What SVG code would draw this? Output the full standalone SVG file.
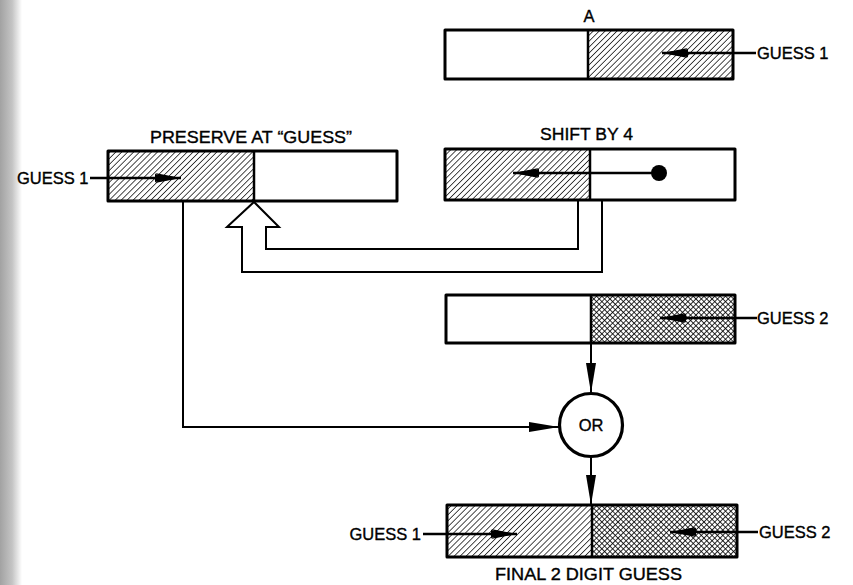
<svg xmlns="http://www.w3.org/2000/svg" width="853" height="585" viewBox="0 0 853 585">
<defs>
<linearGradient id="edge" x1="0" y1="0" x2="1" y2="0">
<stop offset="0" stop-color="#a2a2a2"/>
<stop offset="0.55" stop-color="#c4c4c4"/>
<stop offset="1" stop-color="#ffffff"/>
</linearGradient>
<pattern id="hatch" patternUnits="userSpaceOnUse" width="4.2" height="4.2" patternTransform="rotate(45)">
<rect width="4.2" height="4.2" fill="#fff"/>
<line x1="0" y1="0" x2="0" y2="4.2" stroke="#000" stroke-width="1.4"/>
</pattern>
<pattern id="cross" patternUnits="userSpaceOnUse" width="3.8" height="3.8" patternTransform="rotate(45)">
<rect width="3.8" height="3.8" fill="#fff"/>
<line x1="0" y1="0" x2="0" y2="3.8" stroke="#000" stroke-width="1.6"/>
<line x1="0" y1="0" x2="3.8" y2="0" stroke="#000" stroke-width="1.6"/>
</pattern>
<marker id="spear" viewBox="-28 -7 30 14" refX="0" refY="0" markerWidth="30" markerHeight="14" markerUnits="userSpaceOnUse" orient="auto">
<path d="M0,0 L-26,-5 L-18,0 L-26,5 z" fill="#000"/>
<path d="M0,0 L-26,-4 L-26,4 z" fill="#000"/>
</marker>
<marker id="tri" viewBox="-30 -7 32 14" refX="0" refY="0" markerWidth="32" markerHeight="14" markerUnits="userSpaceOnUse" orient="auto">
<path d="M0,0 L-30,-5 L-30,5 z" fill="#000"/>
</marker>
</defs>
<style>
.box{fill:none;stroke:#000;stroke-width:3;stroke-linejoin:round}
.div{stroke:#000;stroke-width:2.5}
.in{stroke:#000;stroke-width:2.4;fill:none;marker-end:url(#spear)}
.con{stroke:#000;stroke-width:2;fill:none}
.arr{marker-end:url(#tri)}
text{font-family:"Liberation Sans",Arial,sans-serif;font-size:16.5px;fill:#000;stroke:#000;stroke-width:0.35}
</style>
<rect x="0" y="0" width="22" height="585" fill="url(#edge)"/>

<g id="regA">
<text x="589" y="22" text-anchor="middle">A</text>
<rect x="588" y="30" width="145" height="49" fill="url(#hatch)"/>
<rect x="445" y="30" width="288" height="49" class="box"/>
<line x1="588" y1="30" x2="588" y2="79" class="div"/>
<line x1="756" y1="53" x2="662" y2="53" class="in"/>
<text x="757" y="59">GUESS 1</text>
</g>

<g id="preserve">
<text x="150" y="143" textLength="202" lengthAdjust="spacingAndGlyphs">PRESERVE AT “GUESS”</text>
<rect x="108" y="151" width="146" height="50" fill="url(#hatch)"/>
<rect x="108" y="151" width="289" height="50" class="box"/>
<line x1="254" y1="151" x2="254" y2="201" class="div"/>
<line x1="90" y1="178" x2="181" y2="178" class="in"/>
<text x="17" y="184">GUESS 1</text>
</g>

<g id="shift">
<text x="540" y="140" textLength="93" lengthAdjust="spacingAndGlyphs">SHIFT BY 4</text>
<rect x="445" y="149" width="145" height="51" fill="url(#hatch)"/>
<rect x="445" y="149" width="290" height="51" class="box"/>
<line x1="590" y1="149" x2="590" y2="200" class="div"/>
<line x1="659" y1="173" x2="513" y2="173" class="in"/>
<circle cx="659" cy="173" r="8" fill="#000"/>
</g>

<g id="guess2">
<rect x="591" y="295" width="144" height="48" fill="url(#cross)"/>
<rect x="446" y="295" width="289" height="48" class="box"/>
<line x1="591" y1="295" x2="591" y2="343" class="div"/>
<line x1="757" y1="318" x2="660" y2="318" class="in"/>
<text x="757" y="324">GUESS 2</text>
</g>

<g id="or">
<circle cx="591" cy="425" r="31.5" fill="#fff" stroke="#000" stroke-width="3.2"/>
<text x="591" y="431" text-anchor="middle">OR</text>
</g>

<g id="final">
<rect x="447" y="505" width="145" height="52" fill="url(#hatch)"/>
<rect x="592" y="505" width="145" height="52" fill="url(#cross)"/>
<rect x="447" y="505" width="290" height="52" class="box"/>
<line x1="592" y1="505" x2="592" y2="557" class="div"/>
<line x1="423" y1="534" x2="517" y2="534" class="in"/>
<text x="421" y="540" text-anchor="end">GUESS 1</text>
<line x1="758" y1="532" x2="670" y2="532" class="in"/>
<text x="759" y="538">GUESS 2</text>
<text x="495" y="580" textLength="187" lengthAdjust="spacingAndGlyphs">FINAL 2 DIGIT GUESS</text>
</g>

<g id="connectors">
<path class="con" stroke-width="2.5" stroke-linejoin="miter" d="M578,200 V249 H266 V227 H279 L254,202 L227,227 H242 V272 H602 V200"/>
<path class="con arr" d="M183,201 V427 H559"/>
<path class="con arr" d="M591,343 V393"/>
<path class="con arr" d="M591,457 V505"/>
</g>
</svg>
